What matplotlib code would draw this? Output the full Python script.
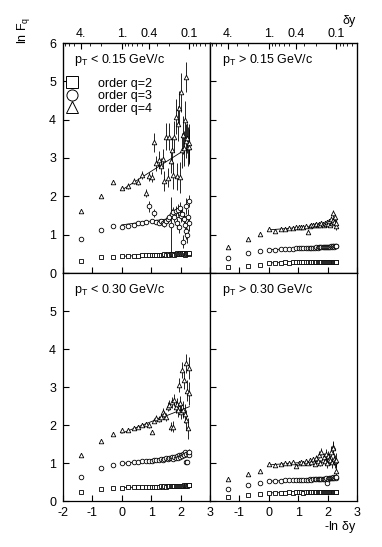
import numpy as np
import matplotlib
matplotlib.use('Agg')
from matplotlib import pyplot
from matplotlib.lines import Line2D

pyplot.rcParams['font.family'] = ['Liberation Sans', 'DejaVu Sans']
pyplot.rcParams['axes.unicode_minus'] = False

# bins: delta y = 4 / M, M = 1..40
M = np.arange(1, 41)
dy = 4.0 / M
x = -np.log(dy)

# p_T < 0.15 GeV/c
tl_q2 = [0.32, 0.41, 0.42, 0.44, 0.44, 0.45, 0.45, 0.46, 0.46, 0.47,
         0.46, 0.48, 0.47, 0.48, 0.47, 0.48, 0.49, 0.48, 0.49, 0.48,
         0.50, 0.49, 0.50, 0.48, 0.50, 0.51, 0.49, 0.50, 0.51, 0.50,
         0.52, 0.49, 0.51, 0.47, 0.52, 0.50, 0.51, 0.53, 0.50, 0.52]
tl_q3 = [0.89, 1.12, 1.23, 1.20, 1.22, 1.25, 1.30, 1.30, 1.32, 1.74,
         1.35, 1.56, 1.33, 1.30, 1.35, 1.30, 1.28, 1.35, 1.40, 1.45,
         1.26, 1.55, 1.60, 1.45, 1.62, 1.30, 1.65, 1.20, 1.70, 1.50,
         1.55, 0.82, 1.40, 1.25, 1.10, 1.75, 0.98, 1.45, 1.30, 1.88]
tl_e3 = [0.02, 0.02, 0.03, 0.03, 0.03, 0.03, 0.04, 0.04, 0.05, 0.15,
         0.05, 0.10, 0.06, 0.06, 0.07, 0.07, 0.08, 0.08, 0.09, 0.10,
         0.72, 0.12, 0.12, 0.12, 0.13, 0.14, 0.15, 0.15, 0.16, 0.16,
         0.17, 0.18, 0.18, 0.19, 0.20, 0.20, 0.20, 0.21, 0.21, 0.15]
tl_q4 = [1.62, 2.02, 2.37, 2.22, 2.27, 2.40, 2.38, 2.56, 2.08, 2.52,
         2.50, 3.41, 2.86, 2.95, 2.79, 2.98, 2.40, 3.56, 2.49, 3.56,
         2.92, 3.20, 2.55, 3.56, 4.08, 2.52, 3.90, 4.30, 2.50, 4.71,
         3.20, 3.60, 3.25, 4.00, 3.45, 5.11, 3.52, 3.30, 3.40, 3.30]
tl_e4 = [0.03, 0.04, 0.05, 0.06, 0.07, 0.08, 0.09, 0.10, 0.11, 0.12,
         0.13, 0.25, 0.20, 0.22, 0.20, 0.25, 0.25, 0.35, 0.25, 0.35,
         0.30, 0.35, 0.35, 0.40, 0.45, 0.35, 0.45, 0.45, 0.40, 0.50,
         0.45, 0.50, 0.45, 0.50, 0.45, 0.40, 0.40, 0.50, 0.50, 0.45]

# p_T > 0.15 GeV/c
tr_q2 = [0.15, 0.18, 0.21, 0.26, 0.27, 0.27, 0.28, 0.27, 0.28, 0.28,
         0.28, 0.28, 0.29, 0.28, 0.29, 0.28, 0.29, 0.29, 0.28, 0.29,
         0.29, 0.28, 0.29, 0.29, 0.28, 0.29, 0.29, 0.29, 0.28, 0.29,
         0.29, 0.29, 0.28, 0.29, 0.29, 0.29, 0.28, 0.29, 0.29, 0.29]
tr_q3 = [0.39, 0.53, 0.57, 0.61, 0.61, 0.62, 0.62, 0.63, 0.63, 0.64,
         0.64, 0.64, 0.65, 0.65, 0.65, 0.66, 0.65, 0.66, 0.66, 0.67,
         0.66, 0.67, 0.67, 0.67, 0.68, 0.67, 0.68, 0.68, 0.69, 0.68,
         0.69, 0.69, 0.70, 0.69, 0.70, 0.71, 0.69, 0.71, 0.70, 0.71]
tr_q4 = [0.68, 0.89, 1.02, 1.14, 1.10, 1.15, 1.16, 1.18, 1.17, 1.20,
         1.19, 1.21, 1.20, 1.22, 1.08, 1.23, 1.24, 1.26, 1.25, 1.27,
         1.24, 1.28, 1.26, 1.30, 1.27, 1.25, 1.30, 1.28, 1.32, 1.29,
         1.35, 1.26, 1.40, 1.30, 1.38, 1.56, 1.33, 1.45, 1.22, 1.30]
tr_e4 = [0.01, 0.01, 0.01, 0.01, 0.01, 0.02, 0.02, 0.02, 0.02, 0.02,
         0.02, 0.03, 0.03, 0.03, 0.03, 0.03, 0.04, 0.04, 0.04, 0.04,
         0.04, 0.05, 0.05, 0.05, 0.05, 0.06, 0.06, 0.06, 0.06, 0.07,
         0.07, 0.07, 0.08, 0.08, 0.08, 0.09, 0.09, 0.09, 0.10, 0.10]

# p_T < 0.30 GeV/c
bl_q2 = [0.25, 0.31, 0.33, 0.35, 0.36, 0.36, 0.37, 0.37, 0.37, 0.38,
         0.37, 0.38, 0.38, 0.38, 0.39, 0.38, 0.39, 0.38, 0.39, 0.39,
         0.39, 0.40, 0.39, 0.39, 0.40, 0.39, 0.40, 0.40, 0.39, 0.40,
         0.40, 0.40, 0.41, 0.40, 0.40, 0.41, 0.40, 0.41, 0.41, 0.41]
bl_q3 = [0.64, 0.86, 0.95, 0.99, 1.00, 1.02, 1.03, 1.04, 1.05, 1.05,
         1.06, 1.08, 1.07, 1.09, 1.10, 1.08, 1.11, 1.12, 1.10, 1.14,
         1.12, 1.15, 1.10, 1.16, 1.13, 1.18, 1.12, 1.20, 1.15, 1.22,
         1.18, 1.25, 1.20, 1.28, 1.03, 1.24, 1.03, 1.27, 1.22, 1.30]
bl_e3 = [0.01, 0.01, 0.01, 0.01, 0.01, 0.01, 0.01, 0.02, 0.02, 0.02,
         0.02, 0.02, 0.02, 0.02, 0.03, 0.03, 0.03, 0.03, 0.03, 0.03,
         0.03, 0.04, 0.04, 0.04, 0.04, 0.04, 0.04, 0.05, 0.05, 0.05,
         0.05, 0.05, 0.05, 0.06, 0.06, 0.06, 0.06, 0.06, 0.06, 0.06]
bl_q4 = [1.21, 1.59, 1.76, 1.86, 1.87, 1.91, 1.96, 2.00, 2.02, 1.99,
         1.82, 2.11, 2.18, 2.15, 2.21, 2.35, 2.28, 2.21, 2.48, 2.52,
         1.96, 2.60, 1.96, 2.66, 2.48, 2.55, 2.40, 3.05, 2.57, 2.35,
         3.45, 2.40, 3.18, 2.30, 3.62, 2.13, 2.90, 1.91, 2.83, 3.50]
bl_e4 = [0.02, 0.02, 0.03, 0.03, 0.03, 0.04, 0.04, 0.05, 0.05, 0.06,
         0.06, 0.07, 0.08, 0.08, 0.09, 0.10, 0.10, 0.11, 0.12, 0.13,
         0.13, 0.14, 0.15, 0.15, 0.16, 0.17, 0.18, 0.19, 0.20, 0.20,
         0.22, 0.22, 0.24, 0.25, 0.26, 0.26, 0.28, 0.28, 0.30, 0.30]

# p_T > 0.30 GeV/c
br_q2 = [0.11, 0.16, 0.19, 0.21, 0.22, 0.22, 0.22, 0.23, 0.22, 0.23,
         0.23, 0.23, 0.22, 0.23, 0.23, 0.23, 0.24, 0.23, 0.23, 0.24,
         0.23, 0.24, 0.23, 0.24, 0.23, 0.24, 0.24, 0.23, 0.24, 0.24,
         0.24, 0.23, 0.24, 0.24, 0.24, 0.23, 0.24, 0.24, 0.24, 0.24]
br_q3 = [0.32, 0.42, 0.47, 0.52, 0.53, 0.53, 0.54, 0.54, 0.55, 0.55,
         0.55, 0.56, 0.55, 0.56, 0.56, 0.57, 0.56, 0.57, 0.57, 0.58,
         0.57, 0.58, 0.58, 0.59, 0.58, 0.59, 0.59, 0.60, 0.48, 0.59,
         0.60, 0.60, 0.61, 0.60, 0.61, 0.62, 0.60, 0.62, 0.61, 0.62]
br_q4 = [0.57, 0.72, 0.80, 0.97, 0.94, 0.98, 1.00, 0.99, 1.02, 0.92,
         1.00, 1.03, 1.01, 1.05, 1.00, 1.08, 1.02, 1.10, 0.98, 1.12,
         1.05, 1.22, 1.00, 1.30, 1.08, 1.15, 1.05, 1.25, 1.00, 1.18,
         1.10, 1.08, 1.30, 1.02, 1.43, 1.40, 1.10, 1.05, 0.80, 1.08]
br_e4 = [0.01, 0.01, 0.02, 0.02, 0.02, 0.02, 0.03, 0.03, 0.03, 0.04,
         0.04, 0.04, 0.05, 0.05, 0.05, 0.06, 0.06, 0.07, 0.07, 0.08,
         0.08, 0.09, 0.09, 0.10, 0.10, 0.11, 0.11, 0.12, 0.12, 0.13,
         0.13, 0.14, 0.14, 0.15, 0.15, 0.16, 0.16, 0.17, 0.17, 0.18]

panel_labels = [r'$\mathregular{p_T}$ < 0.15 GeV/c', r'$\mathregular{p_T}$ > 0.15 GeV/c',
                r'$\mathregular{p_T}$ < 0.30 GeV/c', r'$\mathregular{p_T}$ > 0.30 GeV/c']
orders = ['order q=2', 'order q=3', 'order q=4']
markers = ['s', 'o', '^']

top_dy = [4, 1, 0.4, 0.1]
top_dy_labels = ['4.', '1.', '0.4', '0.1']
top_dy_minor = [7, 6, 5, 3, 2, 0.9, 0.8, 0.7, 0.6, 0.5, 0.3, 0.2, 0.09, 0.08, 0.07, 0.06]

panels = [
    ([tl_q2, tl_q3, tl_q4], [None, tl_e3, tl_e4]),
    ([tr_q2, tr_q3, tr_q4], [None, None, tr_e4]),
    ([bl_q2, bl_q3, bl_q4], [None, bl_e3, bl_e4]),
    ([br_q2, br_q3, br_q4], [None, None, br_e4]),
]

fig = pyplot.figure(figsize=(3.82, 5.47), dpi=100)
W = 147 / 382
boxes = [[63 / 382, 1 - 273 / 547, W, 230 / 547],
         [210 / 382, 1 - 273 / 547, W, 230 / 547],
         [63 / 382, 1 - 501 / 547, W, 228 / 547],
         [210 / 382, 1 - 501 / 547, W, 228 / 547]]

for k, (series, errs) in enumerate(panels):
    ax = fig.add_axes(boxes[k])
    for y, e, m in zip(series, errs, markers):
        y = np.array(y)
        ax.errorbar(x, y, yerr=e, fmt=m, ms=3.3, mew=0.6, mfc='white', mec='k',
                    ecolor='k', elinewidth=0.6, capsize=0, zorder=3)
        # straight line fit over the first part of the range
        sel = (x >= 0) & (x <= 1.5)
        p = np.polyfit(x[sel], y[sel], 1)
        xf = np.array([0.0, 2.3])
        ax.plot(xf, np.polyval(p, xf), color='k', lw=0.6, zorder=2)
    ax.set_xlim(-2, 3)
    ax.set_ylim(0, 6)
    ax.set_xticks([-2, -1, 0, 1, 2, 3])
    ax.set_yticks([0, 1, 2, 3, 4, 5, 6])
    ax.tick_params(direction='in', length=4, width=0.8, labelsize=9)
    ax.tick_params(axis='x', pad=4)
    ax.tick_params(axis='y', pad=5)
    for s in ax.spines.values():
        s.set_linewidth(0.9)
    ax.text(0.075 if k % 2 == 0 else 0.08, 0.925, panel_labels[k], transform=ax.transAxes,
            fontsize=9, va='center', ha='left')
    if k % 2 == 1:
        ax.tick_params(labelleft=False)
    if k < 2:
        ax.tick_params(labelbottom=False)
        ax2 = ax.twiny()
        ax2.set_xlim(-2, 3)
        ax2.set_xticks(-np.log(top_dy))
        ax2.set_xticklabels(top_dy_labels)
        ax2.set_xticks(-np.log(top_dy_minor), minor=True)
        ax2.tick_params(which='major', direction='in', length=4, width=0.8, labelsize=9, pad=2)
        ax2.tick_params(which='minor', direction='in', length=2.5, width=0.6)
    else:
        if k == 2:
            ax.set_yticklabels(['0', '1', '2', '3', '4', '5', ''])
        else:
            ax.set_xticklabels(['', '-1', '0', '1', '2', '3'])
    if k == 0:
        handles = [Line2D([], [], ls='none', marker=m, ms=8, mfc='white', mec='k', mew=0.7)
                   for m in markers]
        ax.legend(handles, orders, loc='upper left', bbox_to_anchor=(0.01, 0.85),
                  frameon=False, fontsize=9, handlelength=1.2, handletextpad=1.5,
                  labelspacing=0.05, borderaxespad=0, borderpad=0)

fig.text(23 / 382, 1 - 30 / 547, r'ln F$\mathregular{_q}$', rotation=90,
         ha='center', va='center', fontsize=9)
fig.text(357 / 382, 1 - 21 / 547, r'$\mathregular{\delta}$y', ha='right', va='center', fontsize=9)
fig.text(357 / 382, 1 - 527 / 547, r'-ln $\mathregular{\delta}$y', ha='right', va='center', fontsize=9)

pyplot.savefig('out.png', dpi=100)
pyplot.close()
